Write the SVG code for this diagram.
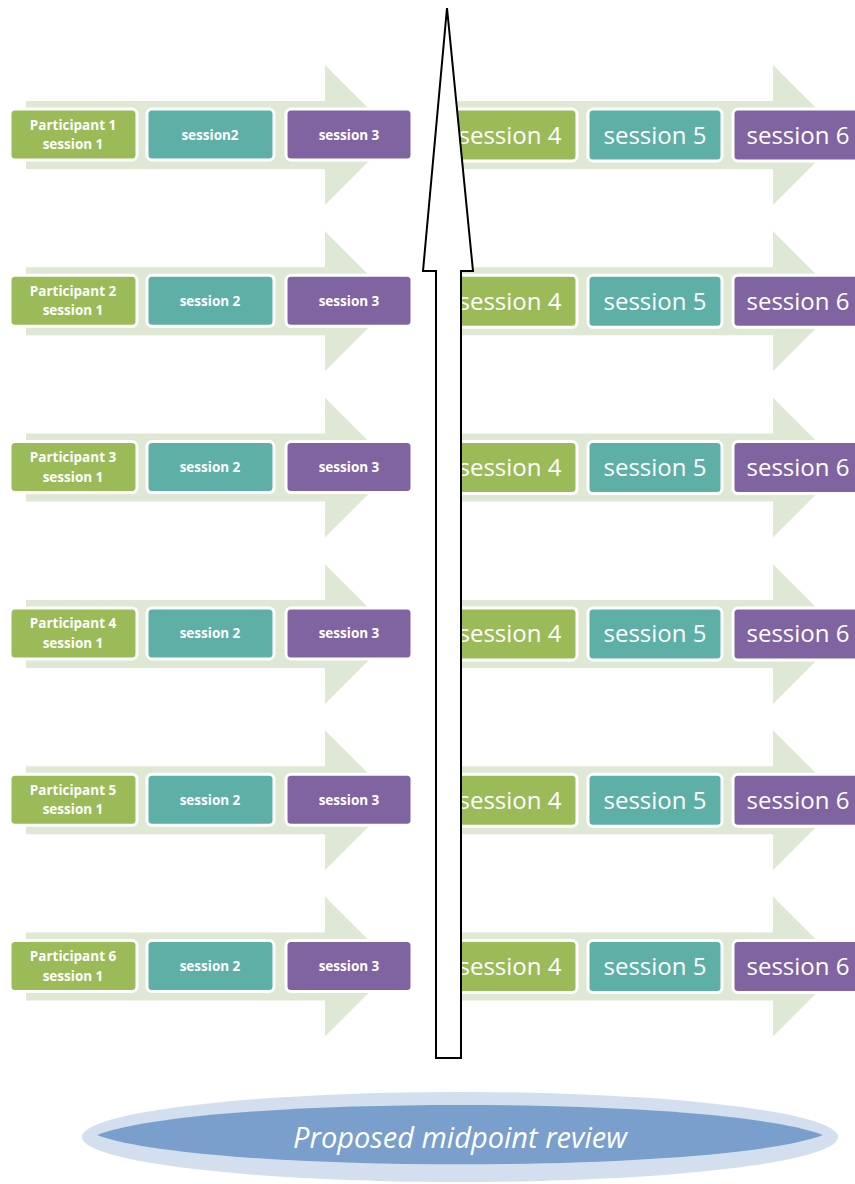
<svg xmlns="http://www.w3.org/2000/svg" width="855" height="1184" viewBox="0 0 855 1184">
  <style>
    .band { fill: #dfe8d4; }
    .box { stroke: #ffffff; stroke-width: 3; }
    .g { fill: #9bbb59; }
    .t { fill: #5eb0a6; }
    .p { fill: #8064a2; }
    .small { font-family: "Open Sans", "Liberation Sans", sans-serif; font-weight: bold; font-size: 13.5px; fill: #ffffff; text-anchor: middle; }
    .big { font-family: "Open Sans", "Liberation Sans", sans-serif; font-size: 24px; fill: #ffffff; text-anchor: middle; }
    .review { font-family: "Open Sans", "Liberation Sans", sans-serif; font-style: italic; font-size: 29px; fill: #ffffff; text-anchor: middle; }
  </style>
  <defs>
    <path id="bandLeft" class="band" d="M26,-34 H325 V-70 L395,0 L325,70 V34 H26 Z"/>
    <path id="bandRight" class="band" d="M450,-34 H773 V-70 L843,0 L773,70 V34 H450 Z"/>
  </defs>
  <rect width="855" height="1184" fill="#ffffff"/>

  <!-- participant rows -->
  <g id="row1" transform="translate(0,135)">
    <use href="#bandLeft"/><use href="#bandRight"/>
    <g id="p1s1"><rect class="box g" x="10" y="-26" width="127" height="51" rx="5"/><text class="small" x="73" y="-5.5">Participant 1</text><text class="small" x="73" y="14">session 1</text></g>
    <g id="p1s2"><rect class="box t" x="147" y="-26" width="127" height="51" rx="5"/><text class="small" x="210" y="4.5">session2</text></g>
    <g id="p1s3"><rect class="box p" x="286" y="-26" width="126" height="51" rx="5"/><text class="small" x="349" y="4.5">session 3</text></g>
    <g id="p1s4"><rect class="box g" x="440" y="-26" width="137" height="52" rx="5"/><text class="big" x="510" y="8.5">session 4</text></g>
    <g id="p1s5"><rect class="box t" x="588" y="-26" width="134" height="52" rx="5"/><text class="big" x="655" y="8.5">session 5</text></g>
    <g id="p1s6"><rect class="box p" x="733" y="-26" width="130" height="52" rx="5"/><text class="big" x="798" y="8.5">session 6</text></g>
  </g>
  <g id="row2" transform="translate(0,301.3)">
    <use href="#bandLeft"/><use href="#bandRight"/>
    <g id="p2s1"><rect class="box g" x="10" y="-26" width="127" height="51" rx="5"/><text class="small" x="73" y="-5.5">Participant 2</text><text class="small" x="73" y="14">session 1</text></g>
    <g id="p2s2"><rect class="box t" x="147" y="-26" width="127" height="51" rx="5"/><text class="small" x="210" y="4.5">session 2</text></g>
    <g id="p2s3"><rect class="box p" x="286" y="-26" width="126" height="51" rx="5"/><text class="small" x="349" y="4.5">session 3</text></g>
    <g id="p2s4"><rect class="box g" x="440" y="-26" width="137" height="52" rx="5"/><text class="big" x="510" y="8.5">session 4</text></g>
    <g id="p2s5"><rect class="box t" x="588" y="-26" width="134" height="52" rx="5"/><text class="big" x="655" y="8.5">session 5</text></g>
    <g id="p2s6"><rect class="box p" x="733" y="-26" width="130" height="52" rx="5"/><text class="big" x="798" y="8.5">session 6</text></g>
  </g>
  <g id="row3" transform="translate(0,467.6)">
    <use href="#bandLeft"/><use href="#bandRight"/>
    <g id="p3s1"><rect class="box g" x="10" y="-26" width="127" height="51" rx="5"/><text class="small" x="73" y="-5.5">Participant 3</text><text class="small" x="73" y="14">session 1</text></g>
    <g id="p3s2"><rect class="box t" x="147" y="-26" width="127" height="51" rx="5"/><text class="small" x="210" y="4.5">session 2</text></g>
    <g id="p3s3"><rect class="box p" x="286" y="-26" width="126" height="51" rx="5"/><text class="small" x="349" y="4.5">session 3</text></g>
    <g id="p3s4"><rect class="box g" x="440" y="-26" width="137" height="52" rx="5"/><text class="big" x="510" y="8.5">session 4</text></g>
    <g id="p3s5"><rect class="box t" x="588" y="-26" width="134" height="52" rx="5"/><text class="big" x="655" y="8.5">session 5</text></g>
    <g id="p3s6"><rect class="box p" x="733" y="-26" width="130" height="52" rx="5"/><text class="big" x="798" y="8.5">session 6</text></g>
  </g>
  <g id="row4" transform="translate(0,633.9)">
    <use href="#bandLeft"/><use href="#bandRight"/>
    <g id="p4s1"><rect class="box g" x="10" y="-26" width="127" height="51" rx="5"/><text class="small" x="73" y="-5.5">Participant 4</text><text class="small" x="73" y="14">session 1</text></g>
    <g id="p4s2"><rect class="box t" x="147" y="-26" width="127" height="51" rx="5"/><text class="small" x="210" y="4.5">session 2</text></g>
    <g id="p4s3"><rect class="box p" x="286" y="-26" width="126" height="51" rx="5"/><text class="small" x="349" y="4.5">session 3</text></g>
    <g id="p4s4"><rect class="box g" x="440" y="-26" width="137" height="52" rx="5"/><text class="big" x="510" y="8.5">session 4</text></g>
    <g id="p4s5"><rect class="box t" x="588" y="-26" width="134" height="52" rx="5"/><text class="big" x="655" y="8.5">session 5</text></g>
    <g id="p4s6"><rect class="box p" x="733" y="-26" width="130" height="52" rx="5"/><text class="big" x="798" y="8.5">session 6</text></g>
  </g>
  <g id="row5" transform="translate(0,800.2)">
    <use href="#bandLeft"/><use href="#bandRight"/>
    <g id="p5s1"><rect class="box g" x="10" y="-26" width="127" height="51" rx="5"/><text class="small" x="73" y="-5.5">Participant 5</text><text class="small" x="73" y="14">session 1</text></g>
    <g id="p5s2"><rect class="box t" x="147" y="-26" width="127" height="51" rx="5"/><text class="small" x="210" y="4.5">session 2</text></g>
    <g id="p5s3"><rect class="box p" x="286" y="-26" width="126" height="51" rx="5"/><text class="small" x="349" y="4.5">session 3</text></g>
    <g id="p5s4"><rect class="box g" x="440" y="-26" width="137" height="52" rx="5"/><text class="big" x="510" y="8.5">session 4</text></g>
    <g id="p5s5"><rect class="box t" x="588" y="-26" width="134" height="52" rx="5"/><text class="big" x="655" y="8.5">session 5</text></g>
    <g id="p5s6"><rect class="box p" x="733" y="-26" width="130" height="52" rx="5"/><text class="big" x="798" y="8.5">session 6</text></g>
  </g>
  <g id="row6" transform="translate(0,966.5)">
    <use href="#bandLeft"/><use href="#bandRight"/>
    <g id="p6s1"><rect class="box g" x="10" y="-26" width="127" height="51" rx="5"/><text class="small" x="73" y="-5.5">Participant 6</text><text class="small" x="73" y="14">session 1</text></g>
    <g id="p6s2"><rect class="box t" x="147" y="-26" width="127" height="51" rx="5"/><text class="small" x="210" y="4.5">session 2</text></g>
    <g id="p6s3"><rect class="box p" x="286" y="-26" width="126" height="51" rx="5"/><text class="small" x="349" y="4.5">session 3</text></g>
    <g id="p6s4"><rect class="box g" x="440" y="-26" width="137" height="52" rx="5"/><text class="big" x="510" y="8.5">session 4</text></g>
    <g id="p6s5"><rect class="box t" x="588" y="-26" width="134" height="52" rx="5"/><text class="big" x="655" y="8.5">session 5</text></g>
    <g id="p6s6"><rect class="box p" x="733" y="-26" width="130" height="52" rx="5"/><text class="big" x="798" y="8.5">session 6</text></g>
  </g>

  <!-- upward timeline arrow -->
  <g id="connectors">
    <path d="M436,1058 V271 H423 L447,8 L473,271 H461 V1058 Z" fill="#ffffff" stroke="#000000" stroke-width="2" stroke-linejoin="miter"/>
  </g>

  <!-- review marker: pale halo with a pointed lens inside -->
  <g id="review">
    <ellipse cx="460" cy="1137" rx="378" ry="45" fill="#d3dfee"/>
    <path d="M97,1135 C200,1095 720,1095 823,1135 C720,1174 200,1174 97,1135 Z" fill="#7a9fcc"/>
    <text class="review" x="460" y="1148">Proposed midpoint review</text>
  </g>
</svg>
